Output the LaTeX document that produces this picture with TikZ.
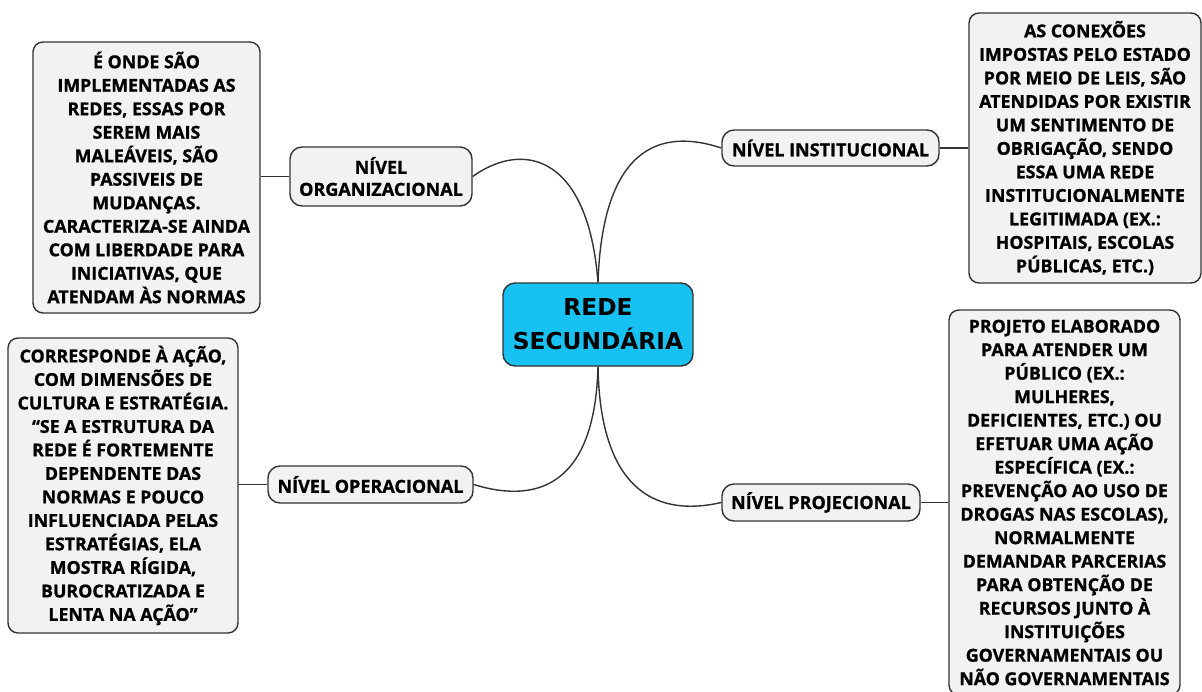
\documentclass[tikz,border=0pt]{standalone}
\usepackage{fontspec}
\setmainfont{Open Sans}[BoldFeatures={FakeBold=1}]
\newfontfamily\cenfont{DejaVu Sans}
\definecolor{edge}{HTML}{333333}
\definecolor{boxfill}{HTML}{F2F2F2}
\definecolor{cenfill}{HTML}{17C1F1}
\begin{document}
\begin{tikzpicture}[x=1pt,y=-1pt,
  descbox/.style={draw=edge, line width=1.4pt, fill=boxfill, rounded corners=10pt,
    align=center, inner sep=0pt, font=\fontsize{17.8}{23.5}\selectfont\bfseries},
  levelbox/.style={draw=edge, line width=1.4pt, fill=boxfill, rounded corners=12pt,
    align=center, inner sep=0pt, font=\fontsize{18}{22}\selectfont\bfseries},
  cenbox/.style={draw=edge, line width=1.4pt, fill=cenfill, rounded corners=12pt,
    align=center, inner sep=0pt, font=\cenfont\fontsize{23.3}{34}\selectfont\bfseries},
  link/.style={draw=edge, line width=1.4pt}]
\useasboundingbox (0,0) rectangle (1202,691);

\node[cenbox, minimum width=190pt, minimum height=83pt] (cen) at (598,324.5) {REDE\\SECUNDÁRIA};

\node[levelbox, minimum width=182pt, minimum height=59pt] (org) at (381,176.5) {NÍVEL\\ORGANIZACIONAL};
\node[levelbox, minimum width=217pt, minimum height=36pt] (inst) at (830.5,148) {NÍVEL INSTITUCIONAL};
\node[levelbox, minimum width=205pt, minimum height=37pt] (oper) at (370.5,484.5) {NÍVEL OPERACIONAL};
\node[levelbox, minimum width=198pt, minimum height=37pt] (proj) at (821,502.5) {NÍVEL PROJECIONAL};

\node[descbox, minimum width=227pt, minimum height=271pt] (orgd) at (146.5,177.5) {É ONDE SÃO\\IMPLEMENTADAS AS\\REDES, ESSAS POR\\SEREM MAIS\\MALEÁVEIS, SÃO\\PASSIVEIS DE\\MUDANÇAS.\\CARACTERIZA-SE AINDA\\COM LIBERDADE PARA\\INICIATIVAS, QUE\\ATENDAM ÀS NORMAS};
\node[descbox, minimum width=232pt, minimum height=270pt] (instd) at (1085,148) {AS CONEXÕES\\IMPOSTAS PELO ESTADO\\POR MEIO DE LEIS, SÃO\\ATENDIDAS POR EXISTIR\\UM SENTIMENTO DE\\OBRIGAÇÃO, SENDO\\ESSA UMA REDE\\INSTITUCIONALMENTE\\LEGITIMADA (EX.:\\HOSPITAIS, ESCOLAS\\PÚBLICAS, ETC.)};
\node[descbox, minimum width=230pt, minimum height=295pt] (operd) at (123,485.5) {CORRESPONDE À AÇÃO,\\COM DIMENSÕES DE\\CULTURA E ESTRATÉGIA.\\“SE A ESTRUTURA DA\\REDE É FORTEMENTE\\DEPENDENTE DAS\\NORMAS E POUCO\\INFLUENCIADA PELAS\\ESTRATÉGIAS, ELA\\MOSTRA RÍGIDA,\\BUROCRATIZADA E\\LENTA NA AÇÃO”};
\node[descbox, minimum width=231pt, minimum height=385pt] (projd) at (1064.5,502.5) {PROJETO ELABORADO\\PARA ATENDER UM\\PÚBLICO (EX.:\\MULHERES,\\DEFICIENTES, ETC.) OU\\EFETUAR UMA AÇÃO\\ESPECÍFICA (EX.:\\PREVENÇÃO AO USO DE\\DROGAS NAS ESCOLAS),\\NORMALMENTE\\DEMANDAR PARCERIAS\\PARA OBTENÇÃO DE\\RECURSOS JUNTO À\\INSTITUIÇÕES\\GOVERNAMENTAIS OU\\NÃO GOVERNAMENTAIS};

\draw[link] (cen.north) .. controls +(-10,-128) and +(50,-36) .. (org.east);
\draw[link] (cen.north) .. controls +(5,-150) and +(-48,-16) .. (inst.west);
\draw[link] (cen.south) .. controls +(-3,114) and +(68,21) .. (oper.east);
\draw[link] (cen.south) .. controls +(2,118) and +(-70,16) .. (proj.west);

\draw[link] (org.west) -- (org.west -| orgd.east);
\draw[link] (inst.east) -- (inst.east -| instd.west);
\draw[link] (oper.west) -- (oper.west -| operd.east);
\draw[link] (proj.east) -- (proj.east -| projd.west);
\end{tikzpicture}
\end{document}
